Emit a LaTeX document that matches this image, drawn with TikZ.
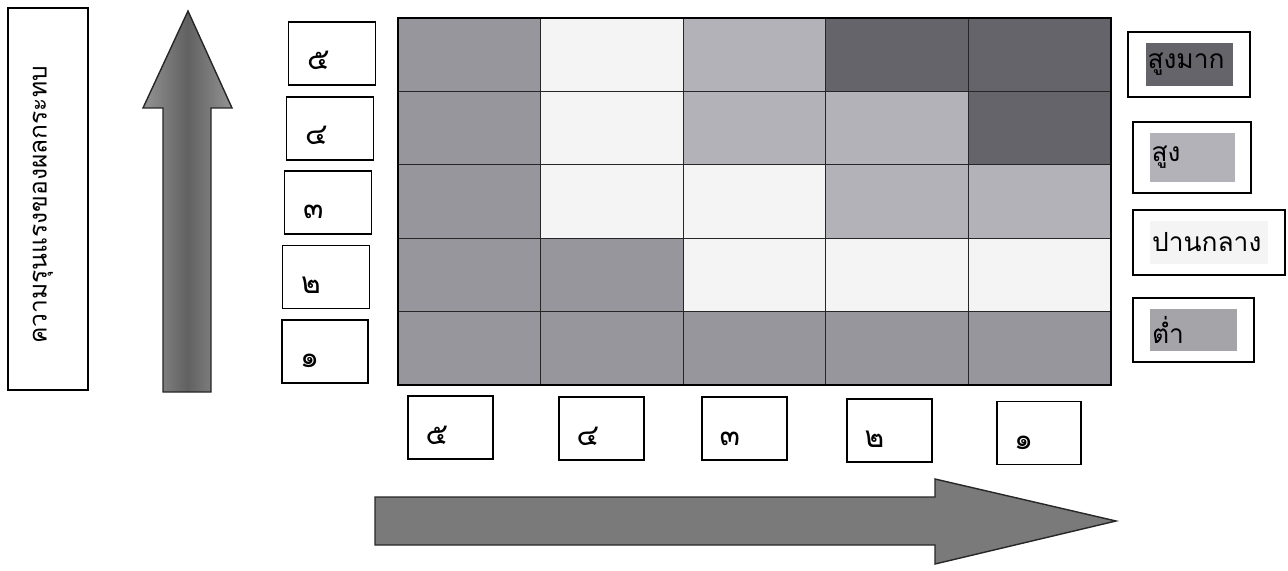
\documentclass[tikz,border=0pt]{standalone}
\usepackage{fontspec}
\newfontfamily\thai[Script=Thai]{Loma}
\definecolor{vhigh}{RGB}{100,100,106}
\definecolor{high}{RGB}{178,178,184}
\definecolor{mid}{RGB}{244,244,244}
\definecolor{low}{RGB}{150,150,156}
\begin{document}
\begin{tikzpicture}[
  x=0.02cm, y=-0.02cm,
  every node/.style={font=\thai},
  numbox/.style={draw, line width=0.9pt, minimum width=1.74cm, minimum height=1.26cm, inner sep=0pt,
    text height=0.66cm, text depth=0pt, text width=1.0cm, align=left, font=\thai\fontsize{17}{19}\selectfont},
  legbox/.style={draw, line width=0.9pt, minimum height=1.3cm, inner sep=0pt},
  legfill/.style={minimum height=0.86cm, inner sep=1pt, align=left, font=\thai\fontsize{15}{18}\selectfont},
  cellline/.style={draw=black!85, line width=0.6pt}
]
\useasboundingbox (0,0) rectangle (1288,571);

% severity axis
\node[draw, line width=0.9pt, minimum width=1.6cm, minimum height=7.64cm] (sev) at (48,199) {};
\node[rotate=90, font=\thai\fontsize{14}{16}\selectfont] (sevtxt) at (43,205) {ความรุนแรงของผลกระทบ};
\shade[left color=black!42, right color=black!42, middle color=black!62, draw=black!85, line width=0.8pt]
  (163,392) -- (163,108) -- (143,108) -- (188,11) -- (232,108) -- (211,108) -- (211,392) -- cycle;

% matrix
\foreach \r/\levels in {0/{low,mid,high,vhigh,vhigh}, 1/{low,mid,high,high,vhigh},
    2/{low,mid,mid,high,high}, 3/{low,low,mid,mid,mid}, 4/{low,low,low,low,low}}{
  \foreach \lv [count=\c from 0] in \levels
    \draw[cellline, fill=\lv] (398+142.6*\c, 18+73.4*\r) rectangle ++(142.6,73.4);
}
\draw[line width=0.8pt] (398,18) rectangle (1111,385);

% row labels
\node[numbox] (y5) at (332,53.5) {๕};
\node[numbox] (y4) at (330,128.5) {๔};
\node[numbox] (y3) at (328,202.5) {๓};
\node[numbox] (y2) at (326,277) {๒};
\node[numbox, minimum width=1.72cm] (y1) at (325,351.5) {๑};

% column labels
\node[numbox, minimum width=1.7cm] (x5) at (450.5,427.5) {๕};
\node[numbox, minimum width=1.7cm] (x4) at (601.5,428.5) {๔};
\node[numbox, minimum width=1.7cm] (x3) at (744.5,428.5) {๓};
\node[numbox, minimum width=1.7cm] (x2) at (889.5,430.5) {๒};
\node[numbox, minimum width=1.68cm] (x1) at (1039,433) {๑};
\fill[black!52, draw=black!85, line width=0.8pt]
  (375,497) -- (935,497) -- (935,479) -- (1116,521) -- (935,564) -- (935,545) -- (375,545) -- cycle;

% legend
\node[legbox, minimum width=2.44cm] (l4) at (1189,64.5) {};
\node[legfill, fill=vhigh, minimum width=1.74cm, text width=1.66cm] (t4) at (l4.center) {สูงมาก};
\node[legbox, minimum width=2.36cm, minimum height=1.42cm] (l3) at (1192,157.5) {};
\node[legfill, fill=high, minimum width=1.7cm, minimum height=1cm, text width=1.62cm] (t3) at (l3.center) {สูง};
\node[legbox, minimum width=3.04cm] (l2) at (1209,242.5) {};
\node[legfill, fill=mid, minimum width=2.36cm, text width=2.28cm] (t2) at (l2.center) {ปานกลาง};
\node[legbox, minimum width=2.42cm, minimum height=1.28cm] (l1) at (1193.5,330) {};
\node[legfill, fill=high!92!black, minimum width=1.74cm, text width=1.66cm] (t1) at (l1.center) {ต่ำ};
\end{tikzpicture}
\end{document}
